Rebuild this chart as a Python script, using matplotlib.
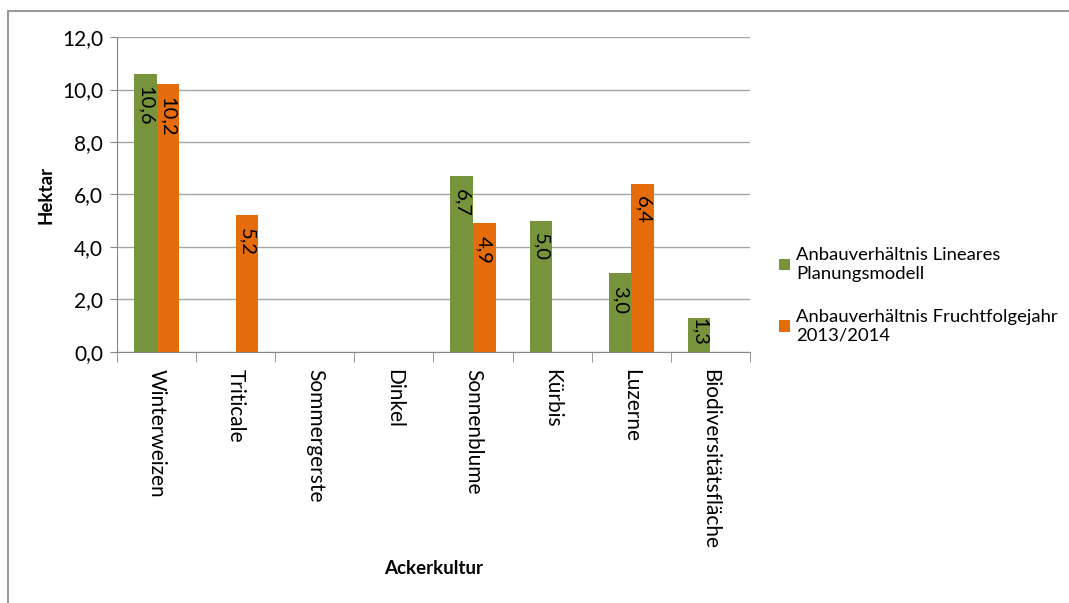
import numpy as np
import matplotlib
matplotlib.use("Agg")
import matplotlib.pyplot as plt
from matplotlib.lines import Line2D

plt.rcParams['font.family'] = ['Lato', 'DejaVu Sans']

# Daten: Anbaufläche je Ackerkultur in Hektar
kulturen = ['Winterweizen', 'Triticale', 'Sommergerste', 'Dinkel',
            'Sonnenblume', 'Kürbis', 'Luzerne', 'Biodiversitätsfläche']
lp_modell = [10.6, 0.0, 0.0, 0.0, 6.7, 5.0, 3.0, 1.3]
fruchtfolge = [10.2, 5.2, 0.0, 0.0, 4.9, 0.0, 6.4, 0.0]
serien_namen = ['Anbauverhältnis Lineares\nPlanungsmodell',
                'Anbauverhältnis Fruchtfolgejahr\n2013/2014']
y_ticks = [0, 2, 4, 6, 8, 10, 12]

gruen = '#77933C'
orange = '#E46C0A'
grau = '#A6A6A6'

fig = plt.figure(figsize=(10.69, 6.03), dpi=100)
ax = fig.add_axes([0.1094, 0.4163, 0.5922, 0.5223])

x = np.arange(len(kulturen))
breite = 0.285
b1 = ax.bar(x - breite / 2, lp_modell, breite, color=gruen, label=serien_namen[0], zorder=3)
b2 = ax.bar(x + breite / 2, fruchtfolge, breite, color=orange, label=serien_namen[1], zorder=3)

ax.set_xlim(-0.5, len(kulturen) - 0.5)
ax.set_ylim(0, 12)

# Werte senkrecht in die Balken schreiben
labels = []
for bars, werte in ((b1, lp_modell), (b2, fruchtfolge)):
    for rect, w in zip(bars, werte):
        if w <= 0:
            continue
        t = ax.annotate(f"{w:.1f}".replace('.', ','),
                        (rect.get_x() + rect.get_width() / 2, w),
                        xytext=(0, -9), textcoords='offset points',
                        rotation=270, ha='center', va='top', fontsize=14.5,
                        color='black', zorder=4)
        labels.append(t)

# kurze Balken: Beschriftung nach oben schieben, damit sie im Balken bleibt
fig.canvas.draw()
renderer = fig.canvas.get_renderer()
y0_px = ax.transData.transform((0, 0))[1]
for t in labels:
    bb = t.get_window_extent(renderer)
    if bb.y0 < y0_px + 6:
        shift = (y0_px + 6 - bb.y0) * 72 / fig.dpi
        t.xyann = (0, -9 + shift)

ax.set_yticks(y_ticks)
ax.set_yticklabels([f"{t:.1f}".replace('.', ',') for t in y_ticks], fontsize=15)
ax.yaxis.grid(True, color=grau, linewidth=1, zorder=0)

ax.set_xticks(x)
ax.set_xticklabels(kulturen, rotation=270, fontsize=15)
ax.tick_params(axis='x', length=0, pad=12)
ax.set_xticks(np.arange(-0.5, len(kulturen)), minor=True)
ax.tick_params(axis='x', which='minor', length=7, color='#868686')
ax.tick_params(axis='y', length=5, color='#868686', pad=5)

for s in ('top', 'right'):
    ax.spines[s].set_visible(False)
for s in ('left', 'bottom'):
    ax.spines[s].set_color('#868686')

ax.set_ylabel('Hektar', fontsize=13.5, fontweight='bold', labelpad=5)
ax.set_xlabel('Ackerkultur', fontsize=13.5, fontweight='bold')
ax.xaxis.set_label_coords(0.5, -0.66)

ax.legend(loc='upper left', bbox_to_anchor=(1.02, 0.385), frameon=False,
          fontsize=13.3, handlelength=0.6, handleheight=0.6, handletextpad=0.3,
          labelspacing=1.45)

# Rahmen oben und links
fig.add_artist(Line2D([0.0075, 1.0], [0.982, 0.982], transform=fig.transFigure,
                      color='#999999', linewidth=1.5))
fig.add_artist(Line2D([0.0075, 0.0075], [0.0, 0.982], transform=fig.transFigure,
                      color='#999999', linewidth=1.5))

fig.savefig('out.png', dpi=100)
